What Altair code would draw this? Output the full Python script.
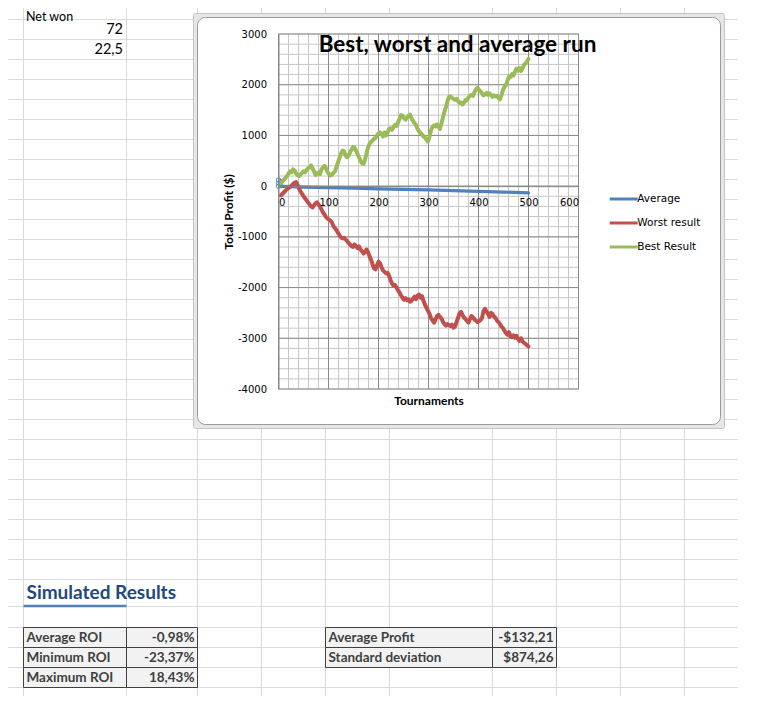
import altair as alt
import pandas as pd

# ---------------- data ----------------
series_names = ["Average", "Worst result", "Best Result"]
series_colors = ["#4F81BD", "#C0504D", "#9BBB59"]

avg_t = [5, 25, 50, 100, 150, 200, 250, 300, 350, 400, 450, 500]
avg_v = [-5, -10, -20, -30, -40, -52, -63, -75, -88, -102, -117, -132]

avg_marker_t = [0, 0, 0, 4, 4]
avg_marker_v = [0, 60, 120, 30, 90]

run_t = list(range(5, 501, 3))
best_v = [60, 100, 130, 160, 200, 250, 290, 270, 330, 310, 250, 220, 200, 230, 260, 290,
          270, 320, 350, 370, 410, 350, 290, 220, 250, 270, 240, 330, 370, 400, 350, 280,
          240, 210, 230, 260, 290, 380, 470, 560, 640, 700, 690, 610, 570, 600, 660, 720,
          770, 760, 700, 640, 570, 500, 450, 440, 520, 640, 760, 830, 870, 900, 930, 950,
          1000, 1040, 1060, 1020, 980, 1060, 1000, 1050, 1130, 1140, 1110, 1160, 1210, 1190,
          1250, 1330, 1400, 1390, 1340, 1310, 1350, 1390, 1410, 1340, 1290, 1240, 1200, 1130,
          1080, 1050, 1020, 980, 960, 920, 880, 980, 1100, 1170, 1200, 1180, 1220, 1170, 1130,
          1240, 1360, 1470, 1560, 1680, 1760, 1770, 1740, 1720, 1700, 1720, 1680, 1640, 1650,
          1610, 1650, 1700, 1690, 1750, 1780, 1800, 1780, 1850, 1910, 1940, 1900, 1870, 1830,
          1790, 1810, 1840, 1800, 1830, 1800, 1760, 1790, 1770, 1780, 1740, 1710, 1800, 1900,
          1960, 2000, 2080, 2160, 2150, 2210, 2180, 2260, 2320, 2280, 2330, 2270, 2320, 2390,
          2420, 2460, 2510]
worst_v = [-180, -150, -120, -90, -60, -40, -20, 10, 40, 70, 80, 30, -50, -100, -150, -200,
           -240, -280, -320, -360, -400, -420, -380, -340, -320, -360, -400, -460, -520, -560,
           -610, -640, -660, -680, -720, -790, -830, -870, -920, -970, -1010, -1030, -1020,
           -1050, -1080, -1120, -1150, -1180, -1200, -1150, -1180, -1220, -1190, -1250, -1280,
           -1330, -1300, -1250, -1300, -1380, -1450, -1540, -1620, -1640, -1560, -1490, -1520,
           -1600, -1660, -1690, -1720, -1710, -1760, -1850, -1920, -1960, -1950, -2000, -2050,
           -2100, -2150, -2200, -2240, -2210, -2250, -2230, -2280, -2260, -2220, -2180, -2230,
           -2160, -2140, -2200, -2170, -2260, -2340, -2400, -2460, -2520, -2600, -2650, -2690,
           -2630, -2560, -2540, -2580, -2610, -2680, -2720, -2750, -2720, -2740, -2760, -2730,
           -2790, -2770, -2680, -2600, -2510, -2480, -2540, -2590, -2620, -2660, -2690, -2620,
           -2560, -2590, -2630, -2650, -2680, -2660, -2640, -2600, -2460, -2420, -2470, -2520,
           -2580, -2500, -2520, -2570, -2600, -2650, -2680, -2720, -2770, -2800, -2850, -2900,
           -2930, -2880, -2960, -2980, -2940, -2990, -2950, -3010, -3050, -3000, -3060, -3090,
           -3110, -3140, -3160]

x_ticks = [0, 100, 200, 300, 400, 500, 600]
y_ticks = [-4000, -3000, -2000, -1000, 0, 1000, 2000, 3000]
x_minor = list(range(0, 601, 20))
y_minor = list(range(-4000, 3001, 200))

chart_title = "Best, worst and average run"
x_title = "Tournaments"
y_title = "Total Profit ($)"

top_label = ["Net won"]
top_values = ["72", "22,5"]
heading = "Simulated Results"
table1_labels = ["Average ROI", "Minimum ROI", "Maximum ROI"]
table1_values = ["-0,98%", "-23,37%", "18,43%"]
table2_labels = ["Average Profit", "Standard deviation"]
table2_values = ["-$132,21", "$874,26"]

# ---------------- layout (page pixels) ----------------
W, H = 300, 355
PX0, PY0 = 278.5, 34.0          # page position of the plot origin
CANVAS_W, CANVAS_H = 735, 688


def rx(p):
    return p - PX0


def ry(p):
    return p - PY0


sheet_cols = [23.5, 126.5, 197.5, 261.5, 325.5, 389.5, 492.5, 556.5, 620.5, 684.5]
sheet_rows = [19.5 + 20 * k for k in range(29)] + [606.5, 627.5, 647.5, 667.5, 687.5, 707.5]
sheet_right = 738

seg = []
for cx in sheet_cols:
    seg.append(dict(x1=rx(cx), x2=rx(cx), y1=ry(0), y2=ry(712)))
for cy in sheet_rows:
    seg.append(dict(x1=rx(0), x2=rx(sheet_right), y1=ry(cy), y2=ry(cy)))
sheet_df = pd.DataFrame(seg)

# tables
cells, lab_rows, val_rows = [], [], []
t1_x = [23.5, 126.5, 197.5]
t2_x = [325.5, 492.5, 556.5]
t_rows = [627.5, 647.5, 667.5, 687.5]
for xs, labels, values in [(t1_x, table1_labels, table1_values), (t2_x, table2_labels, table2_values)]:
    for i, (lab, val) in enumerate(zip(labels, values)):
        y1, y2 = t_rows[i], t_rows[i + 1]
        cells.append(dict(x1=rx(xs[0]), x2=rx(xs[1]), y1=ry(y1), y2=ry(y2)))
        cells.append(dict(x1=rx(xs[1]), x2=rx(xs[2]), y1=ry(y1), y2=ry(y2)))
        lab_rows.append(dict(x=rx(xs[0] + 3), y=ry((y1 + y2) / 2 + 0.5), label=lab))
        val_rows.append(dict(x=rx(xs[2] - 3), y=ry((y1 + y2) / 2 + 0.5), label=val))
cells_df = pd.DataFrame(cells)
tlab_df = pd.DataFrame(lab_rows)
tval_df = pd.DataFrame(val_rows)

top_left_df = pd.DataFrame([dict(x=rx(26), y=ry(21), label=top_label[0])])
top_right_df = pd.DataFrame([dict(x=rx(123), y=ry(29.5 + 20 * i), label=v) for i, v in enumerate(top_values)])
heading_df = pd.DataFrame([dict(x=rx(26.5), y=ry(593), label=heading)])

FONT = "Lato"
TICK_FONT = "DejaVu Sans"


def px_text(df, align, baseline="middle", **kw):
    return alt.Chart(df).mark_text(align=align, baseline=baseline, **kw).encode(
        x=alt.X("x:Q", scale=None), y=alt.Y("y:Q", scale=None), text="label:N")


# ---------------- scales / axes ----------------
xs = alt.Scale(domain=[0, 600], nice=False, zero=False)
ys = alt.Scale(domain=[-4000, 3000], nice=False, zero=False)
y0 = H * 3000 / 7000
xaxis = alt.Axis(values=x_ticks, orient="bottom", offset=-(H - y0), grid=False, ticks=False,
                 domainColor="#868686", labelPadding=11, labelFont=TICK_FONT, labelFontSize=10,
                 labelColor="#000000", labelExpr="datum.value + ''", zindex=1,
                 title=x_title, titleFont=FONT, titleFontSize=12, titleFontWeight="bold",
                 titleColor="#000000", titleX=W / 2, titleY=(H + 11) - y0,
                 titleBaseline="middle", titleAlign="center")
yaxis = alt.Axis(values=y_ticks, orient="left", grid=False, ticks=False,
                 domainColor="#868686", labelPadding=12, labelFont=TICK_FONT, labelFontSize=10,
                 labelColor="#000000", labelExpr="datum.value + ''", zindex=1,
                 title=y_title, titleFont=FONT, titleFontSize=12, titleFontWeight="bold",
                 titleColor="#000000", titleX=-50, titleY=H / 2, titleAngle=270,
                 titleBaseline="middle", titleAlign="center")
cs = alt.Scale(domain=series_names, range=series_colors)
leg = alt.Legend(orient="none", legendX=333.7, legendY=153.5, title=None, direction="vertical",
                 symbolType="M-1.4,0H1.4", symbolSize=400, symbolStrokeWidth=3,
                 labelFont=TICK_FONT, labelFontSize=10.5, labelColor="#000000",
                 labelOffset=2, rowPadding=6, padding=0)

# ---------------- layers ----------------
sheet_grid = alt.Chart(sheet_df).mark_rule(color="#d9d9d9", strokeWidth=1).encode(
    x=alt.X("x1:Q", scale=None), x2="x2:Q", y=alt.Y("y1:Q", scale=None), y2="y2:Q")

heading_line = alt.Chart(pd.DataFrame([dict(x1=rx(23.5), x2=rx(126.5), y1=ry(606), y2=ry(606))])).mark_rule(
    color="#4F81BD", strokeWidth=2.5).encode(
    x=alt.X("x1:Q", scale=None), x2="x2:Q", y=alt.Y("y1:Q", scale=None), y2="y2:Q")

table_cells = alt.Chart(cells_df).mark_rect(fill="#F2F2F2", stroke="#3F3F3F", strokeWidth=1).encode(
    x=alt.X("x1:Q", scale=None), x2="x2:Q", y=alt.Y("y1:Q", scale=None), y2="y2:Q")

frame_outer = alt.Chart(pd.DataFrame({"k": [0]})).mark_rect(
    fill="#e6e6e6", stroke="#c4c4c4", strokeWidth=1, cornerRadius=2).encode(
    x=alt.value(rx(193.5)), x2=alt.value(rx(724.5)), y=alt.value(ry(13.5)), y2=alt.value(ry(428.5)))
frame_inner = alt.Chart(pd.DataFrame({"k": [0]})).mark_rect(
    fill="#ffffff", stroke="#9a9a9a", strokeWidth=1, cornerRadius=8).encode(
    x=alt.value(rx(197.5)), x2=alt.value(rx(720.5)), y=alt.value(ry(17.5)), y2=alt.value(ry(424.5)))

minor_v = alt.Chart(pd.DataFrame({"gx": x_minor})).mark_rule(color="#c6c6c6", strokeWidth=1).encode(
    x=alt.X("gx:Q", scale=xs, axis=xaxis))
minor_h = alt.Chart(pd.DataFrame({"gy": y_minor})).mark_rule(color="#c6c6c6", strokeWidth=1).encode(
    y=alt.Y("gy:Q", scale=ys, axis=yaxis))
major_v = alt.Chart(pd.DataFrame({"gx": x_ticks})).mark_rule(color="#8a8a8a", strokeWidth=1).encode(
    x=alt.X("gx:Q", scale=xs, axis=xaxis))
major_h = alt.Chart(pd.DataFrame({"gy": y_ticks})).mark_rule(color="#8a8a8a", strokeWidth=1).encode(
    y=alt.Y("gy:Q", scale=ys, axis=yaxis))


def series_layer(t, v, name, width):
    df = pd.DataFrame({"t": t, "v": v, "series": name})
    return alt.Chart(df).mark_line(strokeWidth=width, strokeJoin="round", strokeCap="round").encode(
        x=alt.X("t:Q", scale=xs, axis=xaxis),
        y=alt.Y("v:Q", scale=ys, axis=yaxis),
        color=alt.Color("series:N", scale=cs, legend=leg))


avg_line = series_layer(avg_t, avg_v, series_names[0], 3.2)
worst_line = series_layer(run_t, worst_v, series_names[1], 4)
best_line = series_layer(run_t, best_v, series_names[2], 4)

markers = alt.Chart(pd.DataFrame({"t": avg_marker_t, "v": avg_marker_v})).mark_point(
    shape="circle", filled=False, size=18, color="#4F81BD", strokeWidth=1.2).encode(
    x=alt.X("t:Q", scale=xs, axis=xaxis), y=alt.Y("v:Q", scale=ys, axis=yaxis))

title_text = alt.Chart(pd.DataFrame({"label": [chart_title]})).mark_text(
    align="center", baseline="middle", font=FONT, fontSize=22.5, fontWeight="bold", color="#000000").encode(
    x=alt.value(rx(457.5)), y=alt.value(ry(45)), text="label:N")

chart = alt.layer(
    sheet_grid,
    px_text(top_left_df, "left", baseline="alphabetic", font=FONT, fontSize=12.5, color="#000000"),
    px_text(top_right_df, "right", font=FONT, fontSize=14.5, color="#000000"),
    heading_line,
    px_text(heading_df, "left", font=FONT, fontSize=19, fontWeight="bold", color="#1F497D"),
    table_cells,
    px_text(tlab_df, "left", font=FONT, fontSize=13.5, fontWeight="bold", color="#3F3F3F"),
    px_text(tval_df, "right", font=FONT, fontSize=13.5, fontWeight="bold", color="#3F3F3F"),
    frame_outer,
    frame_inner,
    minor_v, minor_h, major_v, major_h,
    avg_line, markers, worst_line, best_line,
    title_text,
).properties(
    width=W, height=H,
    autosize=alt.AutoSizeParams(type="none"),
    padding={"left": PX0 - 8, "top": PY0 - 8,
             "right": CANVAS_W - (PX0 - 8) - W, "bottom": CANVAS_H - (PY0 - 8) - H},
    background="#ffffff",
).configure_view(stroke=None)

chart.save("out.html", embed_options={"renderer": "svg", "actions": False})
